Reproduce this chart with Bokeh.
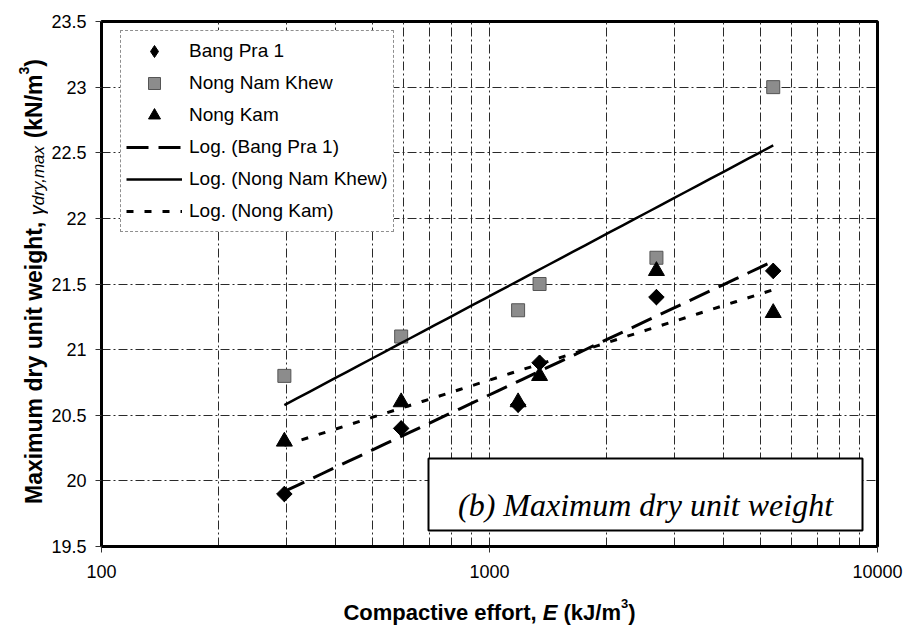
import numpy as np
from bokeh.plotting import figure
from bokeh.layouts import row, column
from bokeh.models import (Range1d, FixedTicker, Label, BoxAnnotation, Legend,
                          LegendItem, PrintfTickFormatter)
from bokeh.embed import file_html
from bokeh.resources import INLINE

# Compactive effort (kJ/m3) and maximum dry unit weight (kN/m3)
energy = [296, 592, 1185, 1346, 2693, 5386]
bang_pra_1 = [19.9, 20.4, 20.58, 20.9, 21.4, 21.6]
nong_nam_khew = [20.8, 21.1, 21.3, 21.5, 21.7, 23.0]
nong_kam = [20.3, 20.6, 20.6, 20.8, 21.6, 21.28]

y_ticks = [19.5, 20.0, 20.5, 21.0, 21.5, 22.0, 22.5, 23.0, 23.5]
y_tick_labels = ["19.5", "20", "20.5", "21", "21.5", "22", "22.5", "23", "23.5"]
x_ticks = [100, 1000, 10000]
x_tick_labels = ["100", "1000", "10000"]
x_minor = [200, 300, 400, 500, 600, 700, 800, 900,
           2000, 3000, 4000, 5000, 6000, 7000, 8000, 9000]

# page geometry: a strip for the y title, the chart, a strip for the x title
W, H = 909, 633
YT_W = 48            # width of the y-title strip
XT_H = 43            # height of the x-title strip
FL, FR, FT, FB = 101, 877, 21, 546   # frame edges on the page


def log_trend(x, y):
    """Least-squares fit y = a*ln(x) + b over the span of the data."""
    x = np.asarray(x, float)
    a, b = np.polyfit(np.log(x), np.asarray(y, float), 1)
    xs = np.geomspace(x.min(), x.max(), 40)
    return xs, a * np.log(xs) + b


# Arial / Liberation Sans advance widths (1/1000 em) for title layout
REG = {" ": 278, "(": 333, ")": 333, ",": 278, ".": 278, "/": 278, "3": 556,
       "a": 556, "d": 556, "m": 833, "r": 333, "x": 500, "y": 500, "γ": 500}
BOLD = {" ": 278, "(": 333, ")": 333, ",": 278, "/": 278, "3": 556, "E": 667,
        "J": 556, "K": 722, "M": 833, "C": 722, "N": 722, "a": 556, "c": 556,
        "d": 611, "e": 556, "f": 333, "g": 611, "h": 611, "i": 278, "k": 556,
        "m": 889, "n": 611, "o": 611, "p": 611, "r": 389, "t": 333, "u": 611,
        "v": 556, "w": 778, "x": 556, "y": 556}


def text_width(s, px, style):
    table = BOLD if "bold" in style else REG
    return sum(table.get(ch, 556) for ch in s) * px / 1000.0


def blank(width, height):
    f = figure(width=width, height=height, x_range=Range1d(0, width),
               y_range=Range1d(0, height), x_axis_location=None,
               y_axis_location=None, output_backend="svg",
               toolbar_location=None, min_border=0, min_border_left=0,
               min_border_right=0, min_border_top=0, min_border_bottom=0,
               background_fill_color="white", border_fill_color="white")
    f.outline_line_color = None
    f.xgrid.visible = False
    f.ygrid.visible = False
    return f


def styled_run(fig, parts, start, base, vertical):
    """Lay out text pieces of mixed style one after another."""
    pos = start
    for s, px, st, shift in parts:
        lead = len(s) - len(s.lstrip(" "))
        pos += text_width(" " * lead, px, st)
        body = s.lstrip(" ")
        if vertical:
            kw = dict(x=base + shift, y=pos, angle=np.pi / 2)
        else:
            kw = dict(x=pos, y=base + shift)
        fig.add_layout(Label(x_units="screen", y_units="screen", text=body,
                             text_align="left", text_baseline="alphabetic",
                             text_font="Liberation Sans", text_font_style=st,
                             text_font_size=f"{px}px", text_color="black",
                             **kw))
        pos += text_width(body, px, st)


# ---- main chart -----------------------------------------------------------
p = figure(width=W - YT_W, height=H - XT_H, x_axis_type="log",
           x_range=Range1d(100, 10000), y_range=Range1d(19.5, 23.5),
           output_backend="svg", toolbar_location=None,
           min_border_left=FL - YT_W, min_border_right=W - FR,
           min_border_top=FT, min_border_bottom=H - XT_H - FB,
           background_fill_color="white", border_fill_color="white")

p.outline_line_color = "black"
p.outline_line_width = 3

p.xaxis.ticker = FixedTicker(ticks=x_ticks, minor_ticks=x_minor)
p.xaxis.formatter = PrintfTickFormatter(format="%d")
p.xaxis.major_label_overrides = dict(zip(x_ticks, x_tick_labels))
p.yaxis.ticker = FixedTicker(ticks=y_ticks)
p.yaxis.formatter = PrintfTickFormatter(format="%g")
p.yaxis.major_label_overrides = dict(zip(y_ticks, y_tick_labels))
for ax in (p.xaxis, p.yaxis):
    ax.axis_line_color = "black"
    ax.axis_line_width = 3
    ax.major_tick_line_color = "#333333"
    ax.major_tick_out = 6
    ax.major_tick_in = 0
    ax.minor_tick_line_color = None
    ax.major_label_text_font = "Liberation Sans"
    ax.major_label_text_font_size = "18px"
    ax.major_label_text_color = "black"
p.yaxis.major_label_standoff = 9
p.xaxis.major_label_standoff = 12

for g in (p.xgrid, p.ygrid):
    g.grid_line_color = "#2a2a2a"
    g.grid_line_width = 1
    g.grid_line_dash = "9 3 2 3"
p.xgrid.minor_grid_line_color = "#2a2a2a"
p.xgrid.minor_grid_line_width = 1
p.xgrid.minor_grid_line_dash = "9 3 2 3"

# measured points; the diamond marker carries the legend key for Bang Pra 1,
# the turned square on top gives the point its even proportions
r_bp = p.scatter(energy, bang_pra_1, marker="diamond", size=15,
                 fill_color="black", line_color="black")
p.scatter(energy, bang_pra_1, marker="square", angle=np.pi / 4,
          size=11, fill_color="black", line_color="black")
r_nnk = p.scatter(energy, nong_nam_khew, marker="square", size=13,
                  fill_color="#8c8c8c", line_color="#555555", line_width=1)
r_nk = p.scatter(energy, nong_kam, marker="triangle", size=16,
                 fill_color="black", line_color="black")

# logarithmic trend lines
xs, ys = log_trend(energy, bang_pra_1)
t_bp = p.line(xs, ys, line_color="black", line_width=3, line_dash="22 10")
xs, ys = log_trend(energy, nong_nam_khew)
t_nnk = p.line(xs, ys, line_color="black", line_width=2.5)
xs, ys = log_trend(energy, nong_kam)
t_nk = p.line(xs, ys, line_color="black", line_width=3, line_dash="7 11")

legend = Legend(items=[
    LegendItem(label="Bang Pra 1", renderers=[r_bp]),
    LegendItem(label="Nong Nam Khew", renderers=[r_nnk]),
    LegendItem(label="Nong Kam", renderers=[r_nk]),
    LegendItem(label="Log. (Bang Pra 1)", renderers=[t_bp]),
    LegendItem(label="Log. (Nong Nam Khew)", renderers=[t_nnk]),
    LegendItem(label="Log. (Nong Kam)", renderers=[t_nk]),
], location=(120 - FL, FB - 232), glyph_width=56, glyph_height=30,
    label_height=28, label_standoff=7, padding=5, spacing=2,
    label_text_font="Liberation Sans", label_text_font_size="19px",
    label_text_color="black",
    border_line_color="#222222", border_line_width=1,
    border_line_dash="6 2 2 2",
    background_fill_color="white", background_fill_alpha=1.0)
p.add_layout(legend)

# caption box inside the plot
p.add_layout(BoxAnnotation(left=428 - FL, right=862 - FL,
                           bottom=FB - 530, top=FB - 458,
                           left_units="screen", right_units="screen",
                           top_units="screen", bottom_units="screen",
                           fill_color="white", fill_alpha=1.0,
                           line_color="black", line_width=2, line_alpha=1.0))
p.add_layout(Label(x=645 - FL, y=FB - 504, x_units="screen", y_units="screen",
                   text="(b) Maximum dry unit weight", text_align="center",
                   text_baseline="alphabetic", text_font="Liberation Serif",
                   text_font_style="italic", text_font_size="32px",
                   text_color="black"))

# ---- x title strip: "Compactive effort, E (kJ/m³)" ------------------------
# the strip's frame lines up with the chart frame above it, so the title is
# centred on the frame width
xt = blank(W - YT_W, XT_H)
x_parts = [("Compactive effort, ", 22, "bold", 0),
           ("E", 22, "bold italic", 0),
           (" (kJ/m", 22, "bold", 0),
           ("3", 13, "bold", 9),
           (")", 22, "bold", 0)]
total = sum(text_width(s, px, st) for s, px, st, _ in x_parts)
styled_run(xt, x_parts, start=(FR - FL) / 2.0 - total / 2.0,
           base=21, vertical=False)

# ---- y title strip: "Maximum dry unit weight, γdry,max (kN/m³)" -----------
yt = blank(YT_W, H)
y_parts = [("Maximum dry unit weight, ", 23, "bold", 0),
           ("γ", 20, "italic", 3),
           ("dry,max", 17, "italic", 5),
           (" (kN/m", 23, "bold", 0),
           ("3", 14, "bold", -10),
           (")", 23, "bold", 0)]
total = sum(text_width(s, px, st) for s, px, st, _ in y_parts)
styled_run(yt, y_parts, start=H - 281 - total / 2.0, base=33, vertical=True)

page = row(yt, column(p, xt))
open("out.html", "w").write(file_html(page, INLINE))
